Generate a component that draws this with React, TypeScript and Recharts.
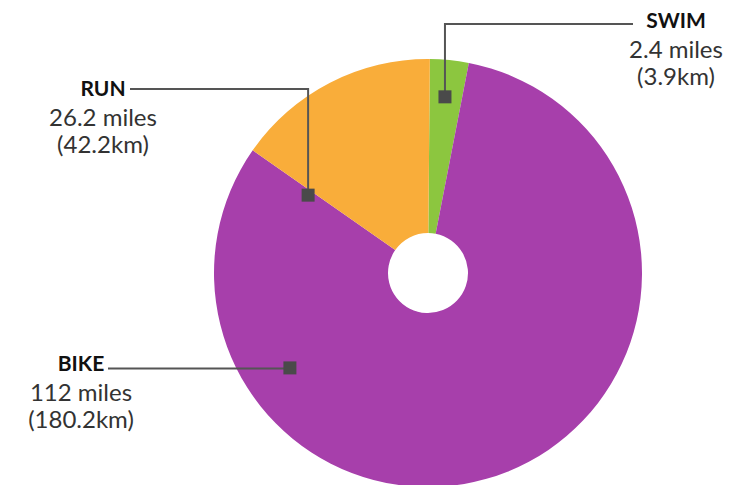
import { PieChart, Pie, Cell } from 'recharts';

const categories = ['SWIM', 'BIKE', 'RUN'];
const miles = [2.4, 112, 26.2];
const kilometres = [3.9, 180.2, 42.2];
// slice sizes as drawn in the graphic (degrees of the circle)
const drawnShare = [10.5, 294, 55.5];
const sliceColors = ['#8cc63f', '#a73fab', '#f9ad3a'];

const data = categories.map((name, i) => ({
  name,
  miles: miles[i],
  km: kilometres[i],
  share: drawnShare[i],
}));

// callout layout: marker in polar coords relative to the pie, then elbow line to the text
const callouts = [
  { angle: 84.5, r: 0.827, lineY: 24, endX: 633, textX: 676, titleY: 28 },
  { angle: 214.5, r: 0.783, lineY: 368.5, endX: 108, textX: 81, titleY: 371 },
  { angle: 147, r: 0.668, lineY: 89, endX: 130, textX: 103, titleY: 96 },
];

const font = 'Lato, "Open Sans", sans-serif';

function Callout(props: any) {
  const { cx, cy, outerRadius, index } = props;
  const c = callouts[index];
  const d = data[index];
  const rad = (c.angle * Math.PI) / 180;
  const x = cx + outerRadius * c.r * Math.cos(rad);
  const y = cy - outerRadius * c.r * Math.sin(rad);
  return (
    <g>
      <path d={`M${x},${y}V${c.lineY}H${c.endX}`} fill="none" stroke="#555" strokeWidth={2} />
      <rect x={x - 6.5} y={y - 6.5} width={13} height={13} fill="#4a4a4a" />
      <text x={c.textX} y={c.titleY} textAnchor="middle" fontFamily={font} fontWeight={700} fontSize={21} fill="#111">
        {d.name}
      </text>
      <text x={c.textX} y={c.titleY + 30} textAnchor="middle" fontFamily={font} fontSize={24} fill="#333">
        {`${d.miles} miles`}
      </text>
      <text x={c.textX} y={c.titleY + 57} textAnchor="middle" fontFamily={font} fontSize={24} fill="#333">
        {`(${d.km}km)`}
      </text>
    </g>
  );
}

export default function App() {
  return (
    <div style={{ position: 'absolute', left: 0, top: 0, width: 740, height: 485, background: '#fff' }}>
      <PieChart width={740} height={485} margin={{ top: 0, right: 0, bottom: 0, left: 0 }}>
        <Pie
          data={data}
          dataKey="share"
          nameKey="name"
          cx={428}
          cy={273}
          outerRadius={214}
          innerRadius={40}
          startAngle={89.5}
          endAngle={-270.5}
          stroke="none"
          labelLine={false}
          label={Callout}
          isAnimationActive={false}
        >
          {data.map((d, i) => (
            <Cell key={d.name} fill={sliceColors[i]} />
          ))}
        </Pie>
      </PieChart>
    </div>
  );
}
